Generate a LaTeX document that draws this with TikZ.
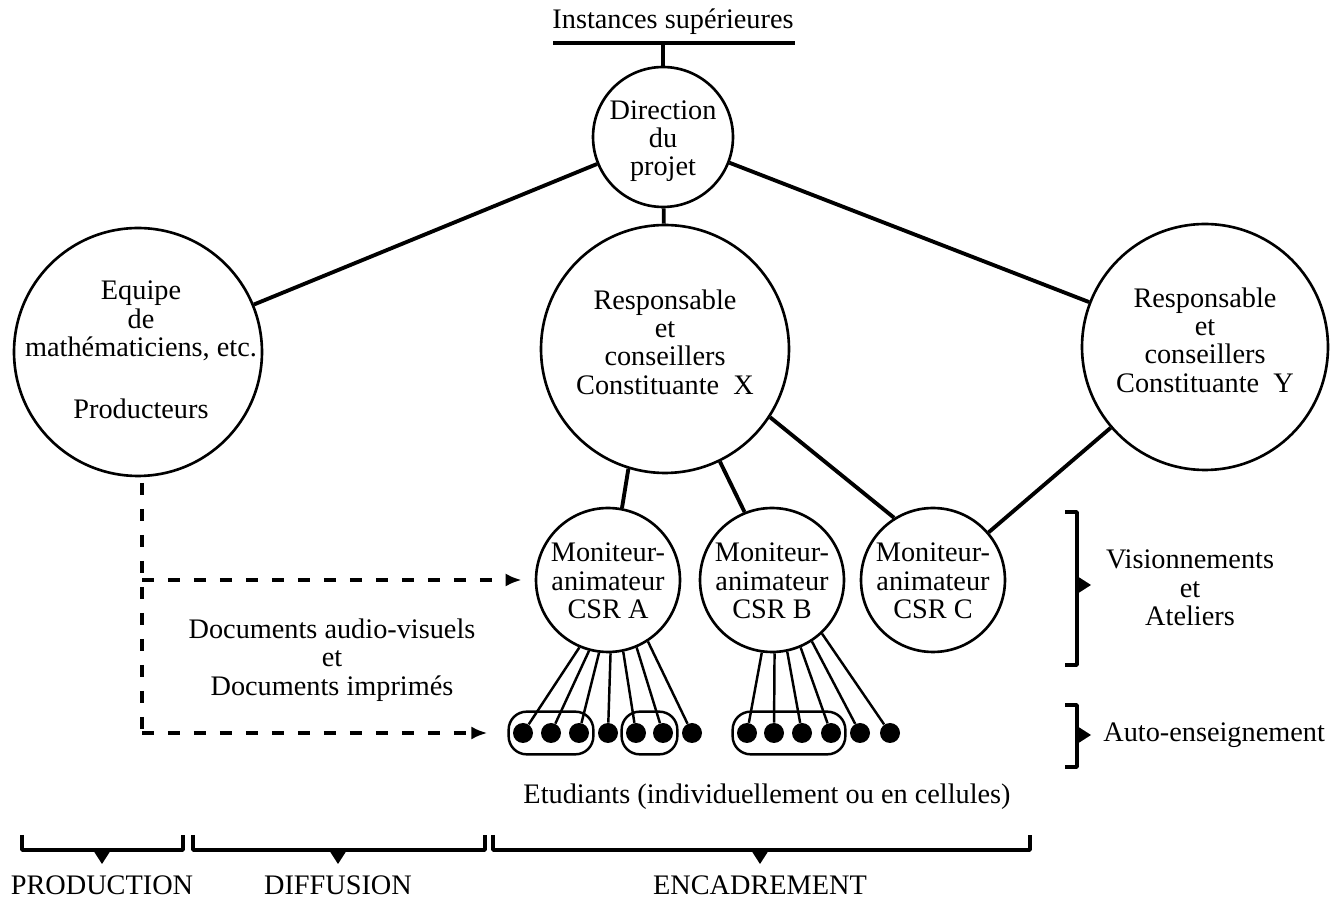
\documentclass[tikz,border=0pt]{standalone}
\usepackage{fontspec}
\setmainfont{Liberation Serif}
\usetikzlibrary{arrows.meta,fit}
\tikzset{
	bub/.style={circle, draw, line width=1.5pt, inner sep=0pt, minimum size=#1},
	txt/.style={align=center, inner sep=0pt, font=\fontsize{16.1}{16.1}\selectfont},
	conn/.style={line width=2.2pt},
	spoke/.style={line width=1.4pt},
	dot/.style={circle, fill, inner sep=0pt, minimum size=0.4cm},
	grp/.style={draw, rounded corners=0.36cm, line width=1.4pt, inner xsep=0.08cm, inner ysep=0.22cm},
	dsh/.style={line width=2.2pt, dash pattern=on 0.24cm off 0.28cm},
	brk/.style={line width=2pt},
}
\begin{document}
\begin{tikzpicture}[x=0.02cm, y=-0.02cm, line join=round, >={Latex[length=0.32cm,width=0.26cm]}]
	\useasboundingbox (0,0) rectangle (1330,901);
	% top of the chart
	\node[txt] (inst) at (673,22) {Instances supérieures};
	\coordinate (ul) at (553,43); \coordinate (ur) at (795,43);
	\draw[conn] (ul)--(ur);
	\node[bub=2.8cm] (dir) at (663,137) {};
	\node[txt] (dirtxt) at (663,141) {Direction\\du\\projet};
	\draw[conn] (dir.north)--(dir.north |- ul);
	% second level
	\node[bub=4.96cm] (eq) at (138,352) {};
	\node[txt] (eqtxt) at (141,350) {Equipe\\de\\mathématiciens, etc.\\[1.2em]Producteurs};
	\node[bub=4.96cm] (rx) at (665,349) {};
	\node[txt] (rxtxt) at (665,342) {Responsable\\et\\conseillers\\Constituante\enskip X};
	\node[bub=4.92cm] (ry) at (1205,347) {};
	\node[txt] (rytxt) at (1205,340) {Responsable\\et\\conseillers\\Constituante\enskip Y};
	\draw[conn] (dir)--(eq);
	\draw[conn] (dir)--(rx);
	\draw[conn] (dir)--(ry);
	% moniteurs
	\foreach \n/\x/\c in {ma/608/A, mb/772/B, mc/933/C}{
		\node[bub=2.88cm] (\n) at (\x,580) {};
		\node[txt] (\n txt) at (\x,581) {Moniteur-\\animateur\\CSR \c};
	}
	\draw[conn] (rx.-107)--(ma.79);
	\draw[conn] (rx.-64)--(mb.112);
	\draw[conn] (rx.-33)--(mc.122);
	\draw[conn] (ry)--(mc);
	% etudiants
	\foreach \x [count=\i] in {523,551,579,608,636,663,692} \node[dot] (a\i) at (\x,733) {};
	\foreach \x [count=\i] in {747,774,802,831,860,890} \node[dot] (b\i) at (\x,733) {};
	\foreach \i/\a in {1/-113,2/-105,3/-97,4/-88,5/-78,6/-67,7/-57} \draw[spoke] (ma.\a)--(a\i);
	\foreach \i/\a in {1/-98,2/-88,3/-78,4/-67,5/-57,6/-47} \draw[spoke] (mb.\a)--(b\i);
	\node[grp, fit=(a1)(a3)] (ga1) {};
	\node[grp, fit=(a5)(a6)] (ga2) {};
	\node[grp, fit=(b1)(b4)] (gb1) {};
	\node[txt] (etud) at (767,797) {Etudiants (individuellement ou en cellules)};
	% documents
	\coordinate (dtop) at (142,483); \coordinate (dmid) at (142,580); \coordinate (dbot) at (142,733);
	\draw[dsh] (dtop)--(dbot);
	\draw[dsh,->,shorten >=0.26cm] (dmid)--(ma);
	\draw[dsh,->,shorten >=0.4cm] (dbot)--(ga1);
	\node[txt] (docs) at (332,660) {Documents audio-visuels\\et\\Documents imprimés};
	% right brackets
	\draw[brk] (1065,512)--(1077,512)--(1077,665)--(1065,665);
	\fill (1077,576)--(1091,585)--(1077,594)--cycle;
	\node[txt] (vis) at (1190,588) {Visionnements\\et\\Ateliers};
	\draw[brk] (1065,705)--(1077,705)--(1077,767)--(1065,767);
	\fill (1077,726)--(1091,735)--(1077,744)--cycle;
	\node[txt, anchor=west] (auto) at (1103,735) {Auto-enseignement};
	% bottom brackets
	\foreach \l/\r/\m/\t in {22/183/102/PRODUCTION, 193/485/338/DIFFUSION, 493/1030/760/ENCADREMENT}{
		\draw[brk] (\l,835)--(\l,850)--(\r,850)--(\r,835);
		\fill (\m-9,850)--(\m,864)--(\m+9,850)--cycle;
		\node[txt] (lab\t) at (\m,885) {\t};
	}
\end{tikzpicture}
\end{document}
